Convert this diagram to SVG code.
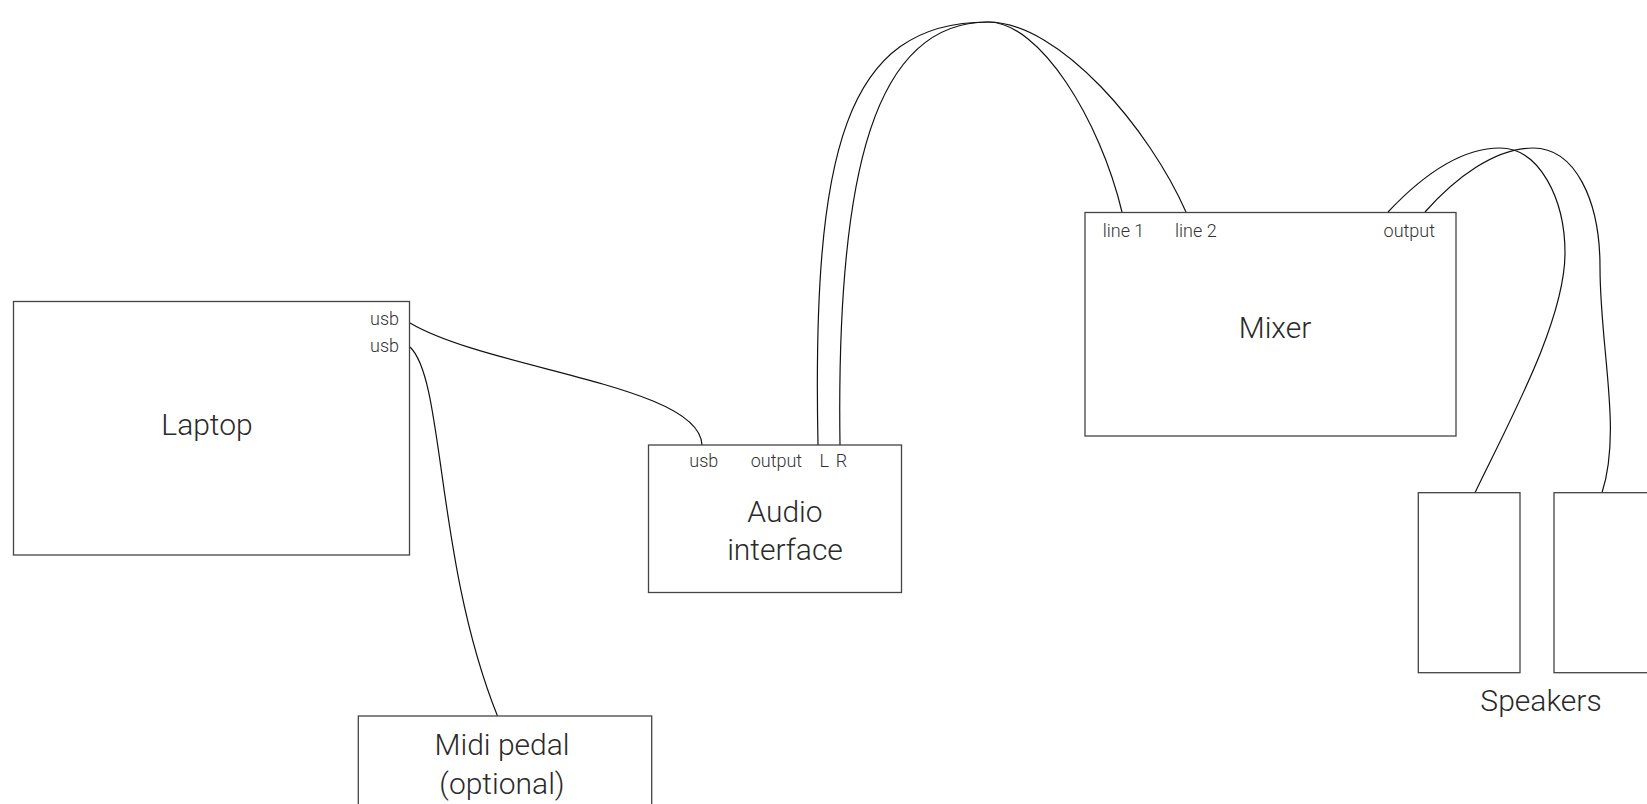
<svg xmlns="http://www.w3.org/2000/svg" width="1647" height="804" viewBox="0 0 1647 804">
<style>
.box{fill:#fff;stroke:#444;stroke-width:1.3}
.wire{fill:none;stroke:#111;stroke-width:1.2}
.big{font-family:Roboto,"Liberation Sans",sans-serif;font-weight:300;font-size:30px;fill:#2a2a2a;text-anchor:middle}
.small{font-family:Roboto,"Liberation Sans",sans-serif;font-weight:300;font-size:18px;fill:#333}
</style>
<rect width="1647" height="804" fill="#fff"/>
<g id="connectors">
<path class="wire" d="M410,323 C490,370 700,385 702,445"/>
<path class="wire" d="M410,347 C445,380 435,560 497.5,716"/>
<path class="wire" d="M818,445 C812,150 845,22 988,22 C1060,22 1150,130 1186,212"/>
<path class="wire" d="M840,445 C836,170 875,22 988,22 C1040,22 1100,120 1122,212"/>
<path class="wire" d="M1388,212 C1420,178 1460,148 1500,148 C1540,148 1565,200 1565,253 C1565,320 1510,420 1475,492.7"/>
<path class="wire" d="M1425,212 C1455,178 1495,148 1533,148 C1575,148 1600,200 1600,267 C1600,350 1622,430 1602,492.7"/>
</g>
<g id="laptop">
<rect class="box" x="13.5" y="301.5" width="396" height="253.5"/>
<text class="small" x="399" y="325" text-anchor="end">usb</text>
<text class="small" x="399" y="351.7" text-anchor="end">usb</text>
<text class="big" x="207" y="435">Laptop</text>
</g>
<g id="audio-interface">
<rect class="box" x="648.5" y="445" width="253" height="147.5"/>
<text class="small" x="689.3" y="466.7">usb</text>
<text class="small" y="466.7"><tspan x="750.7">output</tspan><tspan x="815"> L</tspan><tspan x="835.7">R</tspan></text>
<text class="big" x="785" y="521.7">Audio</text>
<text class="big" x="785" y="560">interface</text>
</g>
<g id="mixer">
<rect class="box" x="1085" y="212.5" width="371" height="223.5"/>
<text class="small" x="1102.7" y="236.7">line 1</text>
<text class="small" x="1175" y="236.7">line 2</text>
<text class="small" x="1435" y="236.7" text-anchor="end">output</text>
<text class="big" x="1275" y="338.3">Mixer</text>
</g>
<g id="speakers">
<rect class="box" x="1418.3" y="492.7" width="101.7" height="180"/>
<rect class="box" x="1554" y="492.7" width="101.7" height="180"/>
<text class="big" x="1541" y="710.7">Speakers</text>
</g>
<g id="midi-pedal">
<rect class="box" x="358.3" y="716" width="293.4" height="100"/>
<text class="big" x="502" y="755">Midi pedal</text>
<text class="big" x="502" y="794">(optional)</text>
</g>
</svg>
